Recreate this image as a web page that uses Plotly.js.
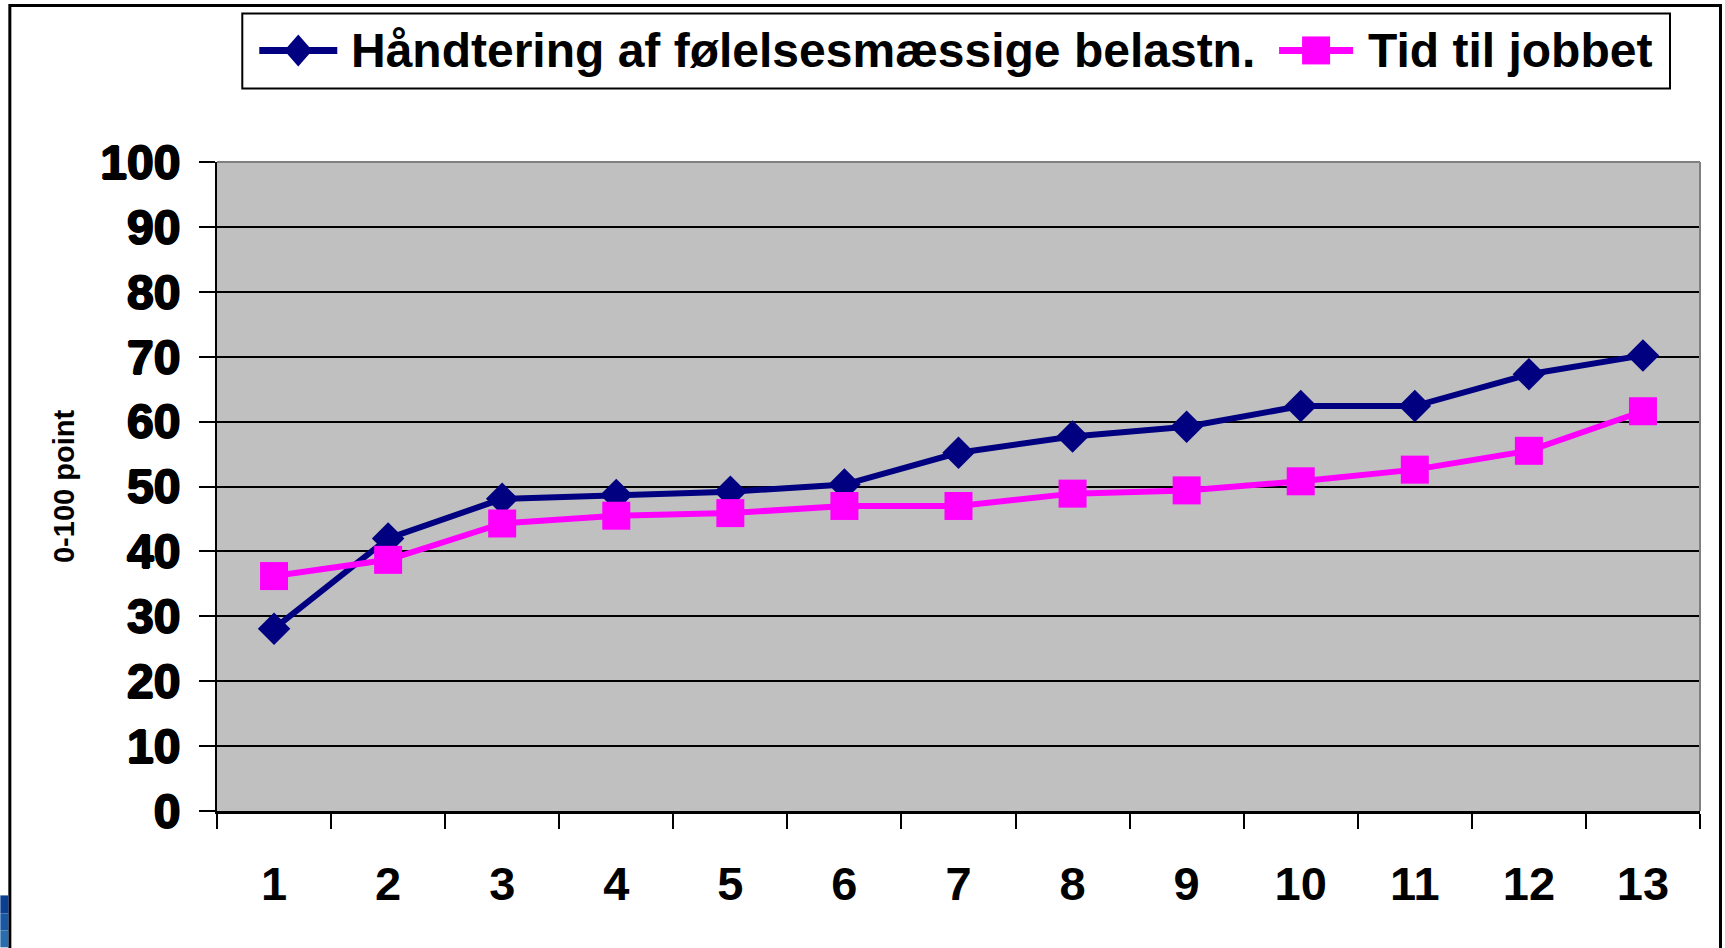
<!DOCTYPE html>
<html><head><meta charset="utf-8">
<script src="https://cdn.plot.ly/plotly-3.0.1.min.js"></script>
<style>html,body{margin:0;padding:0;background:#fff;}#chart{width:1725px;height:948px;}</style>
</head><body><div id="chart"></div>
<script>
// ---- data ----
const categories = ['1','2','3','4','5','6','7','8','9','10','11','12','13'];
const seriesNames = ['Håndtering af følelsesmæssige belastn.', 'Tid til jobbet'];
const handtering = [28.1, 42.0, 48.1, 48.7, 49.2, 50.3, 55.2, 57.7, 59.2, 62.4, 62.4, 67.3, 70.2];
const tidTilJobbet = [36.2, 38.7, 44.3, 45.5, 45.9, 47.0, 47.0, 48.9, 49.4, 50.8, 52.6, 55.5, 61.6];
const yTickValues = [0,10,20,30,40,50,60,70,80,90,100];
const yAxisTitle = '0-100 point';

// ---- geometry ----
const W = 1725, H = 948, L = 216.7, R = 1700, T = 161.7, B = 811.5;
const px2x = p => (p - L) / (R - L);
const py2y = p => (B - p) / (B - T);
const FONT = 'Liberation Sans, Arial, Helvetica, sans-serif';
const NAVY = '#000080', MAG = '#FF00FF';

const traces = [
  {x: categories, y: handtering, name: seriesNames[0], type: 'scatter', mode: 'lines+markers',
   line: {color: NAVY, width: 6}, marker: {symbol: 'diamond', size: 25, color: NAVY}},
  {x: categories, y: tidTilJobbet, name: seriesNames[1], type: 'scatter', mode: 'lines+markers',
   line: {color: MAG, width: 6}, marker: {symbol: 'square', size: 28, color: MAG}}
];

function rectPx(x0, y0, x1, y1, opts) {
  return Object.assign({type: 'rect', xref: 'paper', yref: 'paper',
    x0: px2x(x0), x1: px2x(x1), y0: py2y(y1), y1: py2y(y0), layer: 'above'}, opts);
}
function linePx(x0, y0, x1, y1, color, width) {
  return {type: 'line', xref: 'paper', yref: 'paper', x0: px2x(x0), x1: px2x(x1),
    y0: py2y(y0), y1: py2y(y1), line: {color: color, width: width}, layer: 'above'};
}
function pathPx(pts, color) {
  const d = 'M' + pts.map(p => px2x(p[0]) + ',' + py2y(p[1])).join('L') + 'Z';
  return {type: 'path', xref: 'paper', yref: 'paper', path: d, fillcolor: color,
    line: {width: 0}, layer: 'above'};
}

const legY = 50;
const shapes = [
  // outer chart frame
  rectPx(9.5, 5, 1720.5, 980, {line: {color: '#000', width: 3}, fillcolor: 'rgba(0,0,0,0)'}),
  // blue strip bottom-left
  rectPx(0, 896, 8, 914, {line: {width: 0}, fillcolor: '#0b3f92'}),
  rectPx(0, 914, 8, 931, {line: {width: 0}, fillcolor: '#1857a2'}),
  rectPx(0, 931, 8, 948, {line: {width: 0}, fillcolor: '#2a6dae'}),
  // plot area top/right border (gray)
  {type: 'line', xref: 'paper', yref: 'paper', x0: 0, x1: 1, y0: 1, y1: 1, line: {color: '#808080', width: 2}, layer: 'above'},
  {type: 'line', xref: 'paper', yref: 'paper', x0: 1, x1: 1, y0: 0, y1: 1, line: {color: '#808080', width: 2}, layer: 'above'},
  // legend box
  rectPx(242, 13, 1670, 88, {line: {color: '#000', width: 2}, fillcolor: '#fff'}),
  linePx(259, legY, 337, legY, NAVY, 7),
  pathPx([[298, legY - 16], [312, legY], [298, legY + 16], [284, legY]], NAVY),
  linePx(1279, legY, 1353, legY, MAG, 7),
  rectPx(1302, legY - 14, 1330, legY + 14, {line: {width: 0}, fillcolor: MAG})
];

const annotations = [
  {xref: 'paper', yref: 'paper', x: px2x(349), y: py2y(legY), xanchor: 'left', yanchor: 'middle',
   text: '<b>' + seriesNames[0] + '</b>', showarrow: false, font: {family: FONT, size: 48, color: '#000'}},
  {xref: 'paper', yref: 'paper', x: px2x(1366), y: py2y(legY), xanchor: 'left', yanchor: 'middle',
   text: '<b>' + seriesNames[1] + '</b>', showarrow: false, font: {family: FONT, size: 48, color: '#000'}}
];

const layout = {
  width: W, height: H,
  margin: {l: L, r: W - R, t: T, b: H - B, pad: 0},
  paper_bgcolor: '#fff', plot_bgcolor: '#C0C0C0',
  showlegend: false,
  font: {family: FONT, color: '#000'},
  xaxis: {
    type: 'category', range: [-0.5, 12.5], tickson: 'boundaries', ticks: 'outside', ticklen: 15, tickwidth: 2, tickcolor: '#000',
    showline: true, linecolor: '#000', linewidth: 3, showgrid: false, zeroline: false,
    tickfont: {family: FONT, size: 47, color: '#000', weight: 'bold'},
    ticklabelstandoff: 30, automargin: false, fixedrange: true
  },
  yaxis: {
    range: [0, 100], tickvals: yTickValues, ticks: 'outside', ticklen: 16, tickwidth: 2, tickcolor: '#000',
    showline: true, linecolor: '#000', linewidth: 2, showgrid: true, gridcolor: '#000', gridwidth: 2,
    zeroline: false,
    tickfont: {family: FONT, size: 48, color: '#000', weight: 'bold',
               shadow: '1px 0 0 #000, -1px 0 0 #000, 0 1px 0 #000, 0 -1px 0 #000'},
    ticklabelstandoff: 9, automargin: false, fixedrange: true,
    title: {text: '<b>' + yAxisTitle + '</b>', font: {family: FONT, size: 29, color: '#000'}, standoff: 17}
  },
  shapes: shapes,
  annotations: annotations
};

Plotly.newPlot('chart', traces, layout, {displayModeBar: false, staticPlot: true});
</script></body></html>
